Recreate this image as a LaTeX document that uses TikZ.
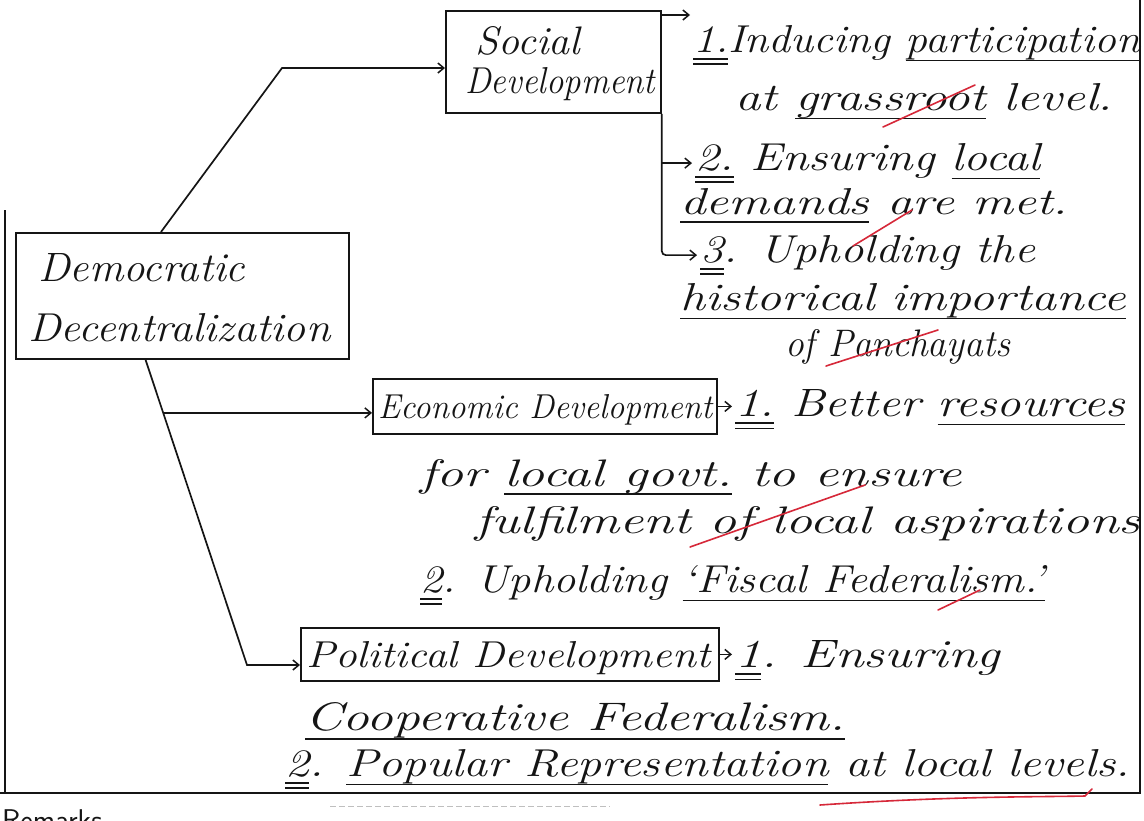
\documentclass[tikz,border=0pt]{standalone}
\usepackage{graphicx}
\usetikzlibrary{arrows.meta,calc}
\definecolor{ink}{HTML}{151515}
\definecolor{redpen}{HTML}{D62839}
\newsavebox\ulbox
\newcommand\fitw[3]{\resizebox{#1pt}{#2pt}{#3}}
\newcommand\ul[1]{\sbox\ulbox{#1}\rlap{\rule[-.24em]{\wd\ulbox}{.045em}}\usebox\ulbox}
\newcommand\uul[1]{\sbox\ulbox{#1}\rlap{\rule[-.2em]{\wd\ulbox}{.045em}}\rlap{\rule[-.34em]{\wd\ulbox}{.045em}}\usebox\ulbox}
\tikzset{
  txt/.style={inner sep=0pt, anchor=base west, text=ink, font=\fontsize{40}{48}\selectfont\itshape},
  box/.style={draw=ink, line width=1.8pt, inner sep=0pt, anchor=north west},
  line/.style={draw=ink, line width=1.7pt},
  arr/.style={line, -{Straight Barb[length=6pt,width=10pt,line width=1.5pt]}},
  redmark/.style={draw=redpen, line width=1.6pt, line cap=round},
  frame/.style={draw=ink, line width=1.8pt}
}
\begin{document}
\begin{tikzpicture}[x=1pt,y=-1pt]
\useasboundingbox[fill=white] (0,0) rectangle (1144,820);
\clip (0,0) rectangle (1144,820);
% ---- boxes
\node[box, minimum width=333pt, minimum height=126pt] (dd) at (15,232) {};
\node[box, minimum width=215pt, minimum height=102pt] (sd) at (445,10) {};
\node[box, minimum width=344pt, minimum height=55pt] (ed) at (372,378) {};
\node[box, minimum width=418pt, minimum height=53pt] (pd) at (300,627) {};
% ---- box texts
\node[txt] (ddt1) at (38,281) {\fitw{207}{28}{Democratic}};
\node[txt] (ddt2) at (28,341) {\fitw{302}{28}{Decentralization}};
\node[txt] (sdt1) at (475,54) {\fitw{105}{28}{Social}};
\node[txt] (sdt2) at (465,93) {\fitw{190}{26}{Development}};
\node[txt] (edt) at (378,418) {\fitw{334}{24}{Economic Development}};
\node[txt] (pdt) at (306,667) {\fitw{404}{26}{Political Development}};
% ---- social items
\node[txt] (s1) at (693,52) {\fitw{447}{27}{\uul{1.}Inducing \ul{participation}}};
\node[txt] (s2) at (735,110) {\fitw{378}{27}{at \ul{grassroot} level.}};
\node[txt] (s3) at (695,170) {\fitw{345}{27}{\uul{2.} Ensuring \ul{local}}};
\node[txt] (s4) at (680,214) {\fitw{388}{26}{\ul{demands} are met.}};
\node[txt] (s5) at (700,262) {\fitw{335}{27}{\uul{3}. Upholding the}};
\node[txt] (s6) at (680,310) {\fitw{446}{27}{\ul{historical importance}}};
\node[txt] (s7) at (785,356) {\fitw{225}{27}{of Panchayats}};
% ---- economic items
\node[txt] (e1) at (735,416) {\fitw{390}{27}{\uul{1.} Better \ul{resources}}};
\node[txt] (e2) at (420,486) {\fitw{542}{27}{for \ul{local govt.} to ensure}};
\node[txt] (e3) at (475,533) {\fitw{665}{27}{fulfilment of local aspirations}};
\node[txt] (e4) at (420,592) {\fitw{625}{27}{\uul{2}. Upholding \ul{‘Fiscal Federalism.’}}};
% ---- political items
\node[txt] (p1) at (735,667) {\fitw{265}{27}{\uul{1}. Ensuring}};
\node[txt] (p2) at (305,730) {\fitw{540}{28}{\ul{Cooperative Federalism.}}};
\node[txt] (p3) at (285,776) {\fitw{845}{27}{\uul{2}. \ul{Popular Representation} at local levels.}};
% ---- connectors
\coordinate (j1) at (282,68);
\coordinate (ddN) at ($(dd.north west)!.436!(dd.north east)$);
\coordinate (ddS) at ($(dd.south west)!.39!(dd.south east)$);
\coordinate (j2) at (247,665);
\coordinate (jE) at ($(ddS)!.174!(j2)$);
\draw[arr] (ddN) -- (j1) -- (j1 -| sd.west);
\draw[arr] (ddS) -- (j2) -- (j2 -| pd.west);
\draw[arr] (jE) -- (jE -| ed.west);
\coordinate (sdE1) at ([yshift=-5pt]sd.north east);
\draw[arr, shorten >=3pt] (sdE1) -- (sdE1 -| s1.west);
\draw[arr, shorten >=3pt] (sd.east |- s3.west) -- (s3.west);
\draw[arr, rounded corners=4pt, shorten >=3pt] (sd.south east) -- (sd.east |- s5.west) -- (s5.west);
\draw[arr, shorten >=3pt] (ed.east) -- (ed.east -| e1.west);
\draw[arr, shorten >=3pt] (pd.east) -- (pd.east -| p1.west);
% ---- page frame
\draw[frame] (0,793) -- (1140,793) -- (1140,0);
\draw[frame] (5,210) -- (5,793);
\draw[draw=black!25, line width=0.8pt, dash pattern=on 6pt off 3pt] (330,806) -- (610,806);
\node[txt, font=\fontsize{30}{36}\selectfont\sffamily] (rem) at (2,830) {Remarks};
% ---- red pen marks
\draw[redmark] (883,127) -- (975,85);
\draw[redmark] (853,246) -- (912,210);
\draw[redmark] (826,366) -- (938,330);
\draw[redmark] (690,547) -- (865,485);
\draw[redmark] (938,610) -- (980,590);
\draw[redmark] (820,805) .. controls (950,796) and (1040,797) .. (1085,796) -- (1092,789);
\end{tikzpicture}
\end{document}
